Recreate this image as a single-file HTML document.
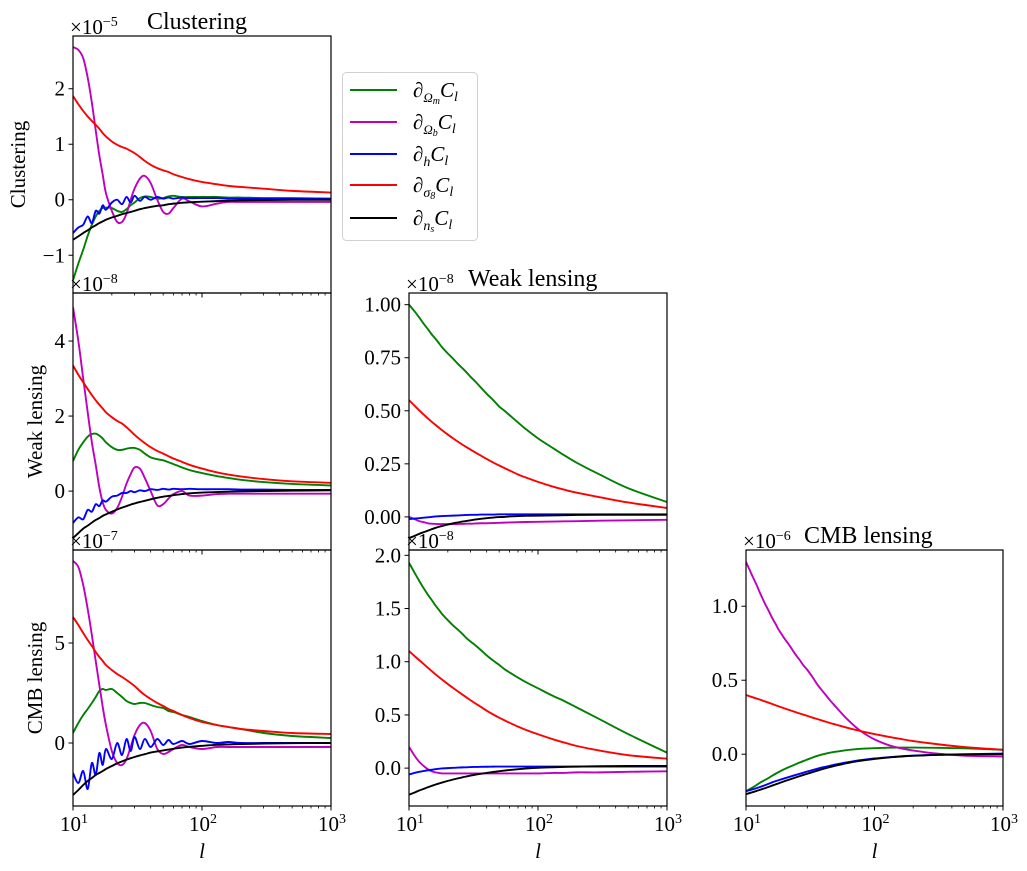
<!DOCTYPE html>
<html><head><meta charset="utf-8">
<style>
html,body{margin:0;padding:0;background:#fff;}
svg{display:block;font-family:"Liberation Serif","DejaVu Serif",serif;}
</style></head>
<body>
<svg id="fig" width="1027" height="871" viewBox="0 0 1027 871" xmlns="http://www.w3.org/2000/svg">
<rect width="1027" height="871" fill="#fff"/>
<g id="panels"></g>
<g>
  <rect x="342.5" y="72.5" width="135" height="168" rx="4" fill="#fff" stroke="#d0d0d0" stroke-width="1"/>
  <g>
    <line x1="350" y1="90" x2="397" y2="90" stroke="#008000" stroke-width="2"/>
    <text x="413" y="97" font-size="21">∂<tspan font-size="13" dy="5" font-style="italic">Ω<tspan font-size="10" dy="2">m</tspan></tspan><tspan dy="-7" font-style="italic">C</tspan><tspan font-size="14" dy="4" font-style="italic">l</tspan></text>
  </g>
  <g>
    <line x1="350" y1="122" x2="397" y2="122" stroke="#bf00bf" stroke-width="2"/>
    <text x="413" y="129" font-size="21">∂<tspan font-size="13" dy="5" font-style="italic">Ω<tspan font-size="10" dy="2">b</tspan></tspan><tspan dy="-7" font-style="italic">C</tspan><tspan font-size="14" dy="4" font-style="italic">l</tspan></text>
  </g>
  <g>
    <line x1="350" y1="154" x2="397" y2="154" stroke="#0000ff" stroke-width="2"/>
    <text x="413" y="161" font-size="21">∂<tspan font-size="14" dy="5" font-style="italic">h</tspan><tspan dy="-5" font-style="italic">C</tspan><tspan font-size="14" dy="4" font-style="italic">l</tspan></text>
  </g>
  <g>
    <line x1="350" y1="185" x2="397" y2="185" stroke="#ff0000" stroke-width="2"/>
    <text x="413" y="192" font-size="21">∂<tspan font-size="14" dy="5" font-style="italic">σ<tspan font-size="10" dy="2">8</tspan></tspan><tspan dy="-7" font-style="italic">C</tspan><tspan font-size="14" dy="4" font-style="italic">l</tspan></text>
  </g>
  <g>
    <line x1="350" y1="218" x2="397" y2="218" stroke="#000000" stroke-width="2"/>
    <text x="413" y="225" font-size="21">∂<tspan font-size="14" dy="5" font-style="italic">n<tspan font-size="10" dy="2">s</tspan></tspan><tspan dy="-7" font-style="italic">C</tspan><tspan font-size="14" dy="4" font-style="italic">l</tspan></text>
  </g>
</g>
</svg>
<script>
// shared multipole grid
const ells = [10,11,12,13,14,15,16,17,18,20,22,24,26,28,30,33,36,40,45,50,55,60,70,80,100,130,160,200,300,500,1000];
const seriesNames = ["omega-m","omega-b","h","sigma8","ns"];
const seriesColors = ["#008000","#bf00bf","#0000ff","#ff0000","#000000"];

// Clustering x Clustering (x1e-5)
const clusOm = [-1.45,-1.15,-0.9,-0.65,-0.45,-0.3,-0.2,-0.15,-0.14,-0.15,-0.2,-0.22,-0.17,-0.1,-0.05,0.03,0.06,0.05,0.02,0.03,0.06,0.07,0.05,0.05,0.05,0.05,0.04,0.04,0.03,0.03,0.02];
const clusOb = [2.75,2.7,2.55,2.2,1.75,1.25,0.8,0.45,0.12,-0.2,-0.4,-0.4,-0.25,0.0,0.2,0.38,0.43,0.3,0.0,-0.22,-0.25,-0.15,0.02,-0.03,-0.12,-0.07,-0.04,-0.04,-0.04,-0.04,-0.04];
const clusH = [-0.6,-0.5,-0.45,-0.3,-0.42,-0.2,-0.25,-0.1,-0.18,-0.05,0.0,-0.08,0.05,-0.05,0.07,-0.02,0.05,0.0,0.05,0.02,0.04,0.02,0.04,0.03,0.03,0.03,0.02,0.02,0.02,0.02,0.02];
const clusS8 = [1.87,1.72,1.6,1.5,1.42,1.35,1.28,1.2,1.14,1.05,0.99,0.95,0.92,0.88,0.84,0.77,0.7,0.63,0.57,0.53,0.5,0.46,0.41,0.37,0.32,0.28,0.25,0.23,0.2,0.16,0.13];
const clusNs = [-0.72,-0.66,-0.6,-0.55,-0.5,-0.46,-0.42,-0.39,-0.36,-0.32,-0.29,-0.26,-0.24,-0.22,-0.2,-0.17,-0.15,-0.13,-0.11,-0.1,-0.08,-0.07,-0.055,-0.045,-0.035,-0.025,-0.018,-0.012,-0.006,-0.002,0.0];

// Clustering x Weak lensing (x1e-8)
const cwOm = [0.8,1.1,1.3,1.45,1.52,1.53,1.48,1.4,1.3,1.17,1.1,1.1,1.13,1.15,1.15,1.1,1.0,0.9,0.85,0.82,0.77,0.72,0.63,0.56,0.48,0.4,0.35,0.3,0.24,0.19,0.15];
const cwOb = [4.9,4.0,3.0,2.1,1.3,0.7,0.1,-0.3,-0.5,-0.6,-0.45,-0.15,0.2,0.45,0.63,0.6,0.35,0.0,-0.38,-0.35,-0.2,-0.08,0.0,-0.12,-0.12,-0.08,-0.07,-0.07,-0.07,-0.07,-0.07];
const cwH = [-0.85,-0.7,-0.75,-0.5,-0.55,-0.35,-0.4,-0.25,-0.28,-0.15,-0.12,-0.05,-0.05,0.0,-0.03,0.02,0.0,0.05,0.03,0.06,0.04,0.06,0.05,0.06,0.05,0.05,0.05,0.04,0.04,0.03,0.03];
const cwS8 = [3.35,3.1,2.9,2.72,2.56,2.42,2.3,2.2,2.1,1.97,1.87,1.8,1.7,1.6,1.5,1.38,1.28,1.17,1.07,1.0,0.93,0.87,0.78,0.7,0.6,0.5,0.44,0.39,0.32,0.26,0.22];
const cwNs = [-1.25,-1.12,-1.0,-0.92,-0.84,-0.77,-0.72,-0.66,-0.62,-0.55,-0.49,-0.44,-0.4,-0.36,-0.33,-0.29,-0.26,-0.22,-0.18,-0.15,-0.13,-0.11,-0.08,-0.06,-0.04,-0.025,-0.015,-0.008,0.0,0.01,0.02];

// Clustering x CMB lensing (x1e-7)
const ccOm = [0.5,1.0,1.4,1.7,2.0,2.3,2.6,2.7,2.65,2.7,2.5,2.3,2.1,2.0,1.95,2.0,2.0,1.9,1.8,1.75,1.6,1.55,1.4,1.3,1.1,0.9,0.8,0.7,0.5,0.35,0.25];
const ccOb = [9.1,8.8,7.9,6.7,5.4,4.1,2.9,1.8,0.9,-0.4,-1.0,-1.1,-0.8,-0.2,0.4,0.9,1.0,0.6,-0.3,-0.55,-0.45,-0.3,-0.1,-0.2,-0.3,-0.2,-0.2,-0.2,-0.2,-0.2,-0.2];
const ccH = [-1.5,-2.0,-1.4,-2.3,-1.0,-1.6,-0.5,-1.1,-0.3,-0.8,0.0,-0.6,0.2,-0.4,0.3,-0.3,0.2,-0.2,0.2,-0.1,0.15,-0.05,0.1,-0.05,0.1,0.0,0.05,0.0,0.0,0.0,0.0];
const ccS8 = [6.3,5.9,5.5,5.15,4.85,4.55,4.3,4.1,3.9,3.65,3.45,3.3,3.15,3.0,2.85,2.6,2.4,2.2,2.0,1.85,1.7,1.6,1.4,1.25,1.05,0.9,0.8,0.7,0.6,0.5,0.45];
const ccNs = [-2.6,-2.35,-2.1,-1.9,-1.75,-1.6,-1.5,-1.4,-1.3,-1.15,-1.02,-0.92,-0.83,-0.76,-0.7,-0.62,-0.56,-0.48,-0.42,-0.37,-0.33,-0.29,-0.23,-0.19,-0.14,-0.09,-0.07,-0.05,-0.03,-0.01,0.0];

// Weak lensing x Weak lensing (x1e-8)
const wwOm = [1.0,0.97,0.94,0.91,0.885,0.86,0.84,0.82,0.8,0.77,0.745,0.72,0.7,0.68,0.66,0.635,0.61,0.58,0.55,0.52,0.5,0.48,0.445,0.415,0.37,0.325,0.29,0.255,0.2,0.135,0.07];
const wwOb = [0.0,-0.01,-0.02,-0.025,-0.03,-0.032,-0.033,-0.034,-0.034,-0.034,-0.034,-0.033,-0.033,-0.032,-0.032,-0.031,-0.03,-0.03,-0.029,-0.028,-0.027,-0.026,-0.025,-0.024,-0.023,-0.022,-0.021,-0.02,-0.018,-0.016,-0.014];
const wwH = [-0.01,-0.008,-0.006,-0.004,-0.002,0.0,0.002,0.003,0.004,0.005,0.006,0.007,0.008,0.009,0.01,0.01,0.011,0.011,0.011,0.012,0.012,0.012,0.012,0.012,0.012,0.012,0.012,0.012,0.012,0.012,0.012];
const wwS8 = [0.55,0.525,0.502,0.482,0.464,0.448,0.434,0.421,0.409,0.388,0.37,0.354,0.34,0.328,0.317,0.302,0.289,0.273,0.256,0.242,0.23,0.219,0.2,0.186,0.165,0.143,0.128,0.114,0.093,0.068,0.042];
const wwNs = [-0.1,-0.09,-0.08,-0.072,-0.065,-0.058,-0.052,-0.047,-0.043,-0.036,-0.03,-0.026,-0.022,-0.019,-0.016,-0.012,-0.009,-0.006,-0.003,-0.001,0.0,0.002,0.004,0.005,0.006,0.007,0.008,0.009,0.01,0.01,0.01];

// Weak lensing x CMB lensing (x1e-8)
const wcOm = [1.93,1.84,1.76,1.69,1.63,1.58,1.53,1.49,1.45,1.39,1.34,1.3,1.26,1.22,1.19,1.15,1.11,1.06,1.01,0.97,0.93,0.9,0.85,0.81,0.75,0.68,0.63,0.57,0.46,0.32,0.145];
const wcOb = [0.2,0.12,0.06,0.02,-0.01,-0.03,-0.04,-0.045,-0.05,-0.05,-0.05,-0.05,-0.05,-0.05,-0.05,-0.05,-0.05,-0.05,-0.05,-0.05,-0.05,-0.05,-0.05,-0.05,-0.05,-0.045,-0.045,-0.04,-0.04,-0.035,-0.03];
const wcH = [-0.06,-0.045,-0.035,-0.027,-0.02,-0.015,-0.01,-0.006,-0.003,0.0,0.003,0.005,0.007,0.008,0.01,0.011,0.012,0.013,0.014,0.015,0.015,0.015,0.015,0.015,0.015,0.015,0.015,0.015,0.015,0.015,0.015];
const wcS8 = [1.1,1.055,1.015,0.978,0.944,0.912,0.883,0.857,0.833,0.79,0.753,0.72,0.69,0.663,0.638,0.605,0.576,0.54,0.504,0.474,0.449,0.427,0.39,0.361,0.318,0.272,0.24,0.208,0.165,0.122,0.088];
const wcNs = [-0.25,-0.23,-0.21,-0.195,-0.18,-0.167,-0.155,-0.145,-0.136,-0.12,-0.107,-0.096,-0.086,-0.078,-0.07,-0.061,-0.053,-0.045,-0.036,-0.029,-0.023,-0.018,-0.01,-0.004,0.003,0.008,0.011,0.014,0.018,0.02,0.021];

// CMB lensing x CMB lensing (x1e-6)
const mmOm = [-0.25,-0.23,-0.21,-0.19,-0.175,-0.16,-0.145,-0.132,-0.12,-0.1,-0.084,-0.07,-0.057,-0.046,-0.036,-0.022,-0.011,0.0,0.01,0.017,0.022,0.027,0.033,0.037,0.041,0.044,0.045,0.045,0.043,0.04,0.03];
const mmOb = [1.3,1.22,1.15,1.08,1.02,0.97,0.92,0.88,0.84,0.78,0.73,0.68,0.64,0.6,0.57,0.52,0.47,0.42,0.365,0.32,0.28,0.245,0.19,0.15,0.1,0.06,0.04,0.025,0.005,-0.01,-0.015];
const mmH = [-0.25,-0.24,-0.23,-0.22,-0.21,-0.2,-0.19,-0.182,-0.175,-0.163,-0.152,-0.142,-0.133,-0.125,-0.117,-0.107,-0.098,-0.088,-0.078,-0.069,-0.062,-0.056,-0.046,-0.039,-0.029,-0.02,-0.014,-0.009,-0.004,0.0,0.004];
const mmS8 = [0.4,0.388,0.377,0.367,0.357,0.348,0.339,0.331,0.323,0.309,0.297,0.286,0.276,0.267,0.259,0.247,0.237,0.225,0.211,0.2,0.19,0.181,0.166,0.154,0.136,0.117,0.103,0.089,0.069,0.048,0.03];
const mmNs = [-0.27,-0.259,-0.249,-0.239,-0.23,-0.221,-0.212,-0.204,-0.196,-0.182,-0.17,-0.159,-0.149,-0.14,-0.132,-0.121,-0.111,-0.099,-0.087,-0.077,-0.069,-0.062,-0.051,-0.043,-0.032,-0.022,-0.016,-0.011,-0.005,-0.002,0.0];

// tick labels
const xTickValues = [10,100,1000];
const xTickExps = ["1","2","3"];
const clusTicks = [-1,0,1,2];
const clusTickLabels = ["−1","0","1","2"];
const cwTicks = [0,2,4];
const cwTickLabels = ["0","2","4"];
const ccTicks = [0,5];
const ccTickLabels = ["0","5"];
const wwTicks = [0,0.25,0.5,0.75,1.0];
const wwTickLabels = ["0.00","0.25","0.50","0.75","1.00"];
const wcTicks = [0,0.5,1.0,1.5,2.0];
const wcTickLabels = ["0.0","0.5","1.0","1.5","2.0"];
const mmTicks = [0,0.5,1.0];
const mmTickLabels = ["0.0","0.5","1.0"];

const NS = "http://www.w3.org/2000/svg";
const root = document.getElementById("panels");
function mk(tag, attrs, parent){
  const e = document.createElementNS(NS, tag);
  for (const k in attrs) e.setAttribute(k, attrs[k]);
  (parent||root).appendChild(e);
  return e;
}
function smoothPath(pts){
  let d = "M" + pts[0][0].toFixed(2) + "," + pts[0][1].toFixed(2);
  for (let i = 0; i < pts.length - 1; i++) {
    const p0 = pts[Math.max(0, i-1)], p1 = pts[i], p2 = pts[i+1], p3 = pts[Math.min(pts.length-1, i+2)];
    const c1x = p1[0] + (p2[0]-p0[0])/6, c1y = p1[1] + (p2[1]-p0[1])/6;
    const c2x = p2[0] - (p3[0]-p1[0])/6, c2y = p2[1] - (p3[1]-p1[1])/6;
    d += "C" + c1x.toFixed(2) + "," + c1y.toFixed(2) + " " + c2x.toFixed(2) + "," + c2y.toFixed(2) + " " + p2[0].toFixed(2) + "," + p2[1].toFixed(2);
  }
  return d;
}

const panels = [
  {id:"clustering-clustering", x0:73, x1:331, y0:36, y1:293, ymin:-1.68, ymax:2.95, ticks:clusTicks, labels:clusTickLabels, series:[clusOm,clusOb,clusH,clusS8,clusNs], exp:"−5", xlabels:false, ylabel:"Clustering", ylx:20, title:"Clustering", tx:147},
  {id:"clustering-weak-lensing", x0:73, x1:331, y0:293, y1:550, ymin:-1.57, ymax:5.28, ticks:cwTicks, labels:cwTickLabels, series:[cwOm,cwOb,cwH,cwS8,cwNs], exp:"−8", xlabels:false, ylabel:"Weak lensing", ylx:37},
  {id:"clustering-cmb-lensing", x0:73, x1:331, y0:550, y1:806, ymin:-3.15, ymax:9.65, ticks:ccTicks, labels:ccTickLabels, series:[ccOm,ccOb,ccH,ccS8,ccNs], exp:"−7", xlabels:true, ylabel:"CMB lensing", ylx:37},
  {id:"weak-lensing-weak-lensing", x0:409, x1:667, y0:293, y1:550, ymin:-0.156, ymax:1.055, ticks:wwTicks, labels:wwTickLabels, series:[wwOm,wwOb,wwH,wwS8,wwNs], exp:"−8", xlabels:false, title:"Weak lensing", tx:468},
  {id:"weak-lensing-cmb-lensing", x0:409, x1:667, y0:550, y1:806, ymin:-0.356, ymax:2.05, ticks:wcTicks, labels:wcTickLabels, series:[wcOm,wcOb,wcH,wcS8,wcNs], exp:"−8", xlabels:true},
  {id:"cmb-lensing-cmb-lensing", x0:746, x1:1003, y0:550, y1:806, ymin:-0.35, ymax:1.38, ticks:mmTicks, labels:mmTickLabels, series:[mmOm,mmOb,mmH,mmS8,mmNs], exp:"−6", xlabels:true, title:"CMB lensing", tx:804}
];

panels.forEach((p, pi) => {
  const g = mk("g", {});
  
  
  const xs = v => p.x0 + (Math.log10(v) - 1) / 2 * (p.x1 - p.x0);
  const ys = v => p.y1 - (v - p.ymin) / (p.ymax - p.ymin) * (p.y1 - p.y0);
  const cid = "clip" + pi;
  const cp = mk("clipPath", {id:cid}, g);
  mk("rect", {x:p.x0, y:p.y0, width:p.x1-p.x0, height:p.y1-p.y0}, cp);
  const lines = mk("g", {"clip-path":"url(#"+cid+")"}, g);
  p.series.forEach((vals, si) => {
    const pts = vals.map((v, i) => [xs(ells[i]), ys(v)]);
    const path = mk("path", {d:smoothPath(pts), fill:"none", stroke:seriesColors[si], "stroke-width":"1.9", "stroke-linejoin":"round"}, lines);
    
    
  });
  const frame = mk("rect", {x:p.x0, y:p.y0, width:p.x1-p.x0, height:p.y1-p.y0, fill:"none", stroke:"#000", "stroke-width":"1.2"}, g);
  
  
  for (let d = 10; d < 1000; d *= 10) {
    for (let m = 2; m <= 9; m++) {
      const x = xs(d*m);
      mk("line", {x1:x, x2:x, y1:p.y1, y2:p.y1+2.5, stroke:"#000", "stroke-width":"0.8"}, g);
    }
  }
  xTickValues.forEach((v, i) => {
    const x = xs(v);
    mk("line", {x1:x, x2:x, y1:p.y1, y2:p.y1+4.5, stroke:"#000", "stroke-width":"1"}, g);
    if (p.xlabels) {
      const t = mk("text", {x:x-13, y:p.y1+25, "font-size":"21"}, g);
      
      
      t.appendChild(document.createTextNode("10"));
      const s = mk("tspan", {"font-size":"14", dy:"-8"}, t);
      s.textContent = xTickExps[i];
    }
  });
  if (p.xlabels) {
    const xl = mk("text", {x:(p.x0+p.x1)/2, y:p.y1+52, "font-size":"21", "font-style":"italic", "text-anchor":"middle"}, g);
    
    
    xl.textContent = "l";
  }
  p.ticks.forEach((v, i) => {
    const y = ys(v);
    mk("line", {x1:p.x0-4.5, x2:p.x0, y1:y, y2:y, stroke:"#000", "stroke-width":"1"}, g);
    const t = mk("text", {x:p.x0-8, y:y+7, "font-size":"21", "text-anchor":"end"}, g);
    
    
    t.textContent = p.labels[i];
  });
  const ot = mk("text", {x:p.x0-3, y:p.y0-2, "font-size":"21"}, g);
  
  
  ot.appendChild(document.createTextNode("×10"));
  const os = mk("tspan", {"font-size":"14", dy:"-8"}, ot);
  os.textContent = p.exp;
  if (p.ylabel) {
    const cy = (p.y0 + p.y1) / 2;
    const yl = mk("text", {x:p.ylx, y:cy, "font-size":"21", "text-anchor":"middle", transform:"rotate(-90 "+p.ylx+" "+cy+")", "dominant-baseline":"middle"}, g);
    
    
    yl.textContent = p.ylabel;
  }
  if (p.title) {
    const tt = mk("text", {x:p.tx, y:p.y0-7, "font-size":"24"}, g);
    
    
    tt.textContent = p.title;
  }
});
</script>
</body></html>
